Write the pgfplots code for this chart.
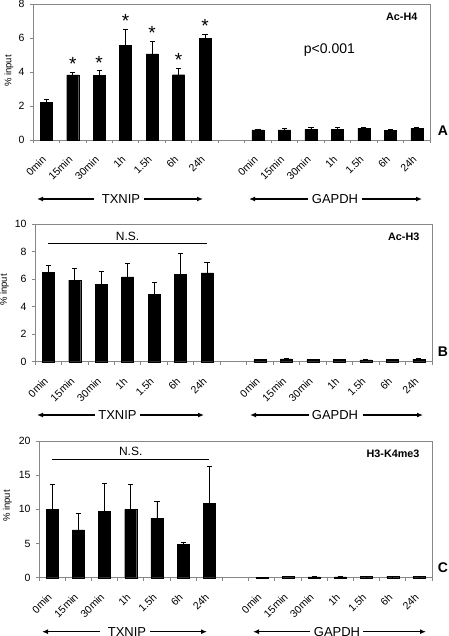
\documentclass[border=0pt]{standalone}
\usepackage{fontspec}
\setmainfont{Liberation Sans}
\usepackage{pgfplots}
\pgfplotsset{compat=1.18}
\usetikzlibrary{arrows.meta}
\definecolor{axgray}{RGB}{135,135,135}
\pgfplotsset{
  panel/.style={
    scale only axis, width=397pt, height=#1, anchor=south west,
    xmin=-0.5, xmax=14.5, ymin=0,
    axis line style={draw=axgray, line width=0.8pt},
    tick style={draw=axgray, line width=0.8pt},
    tick align=outside,
    major tick length=3pt, minor tick length=3pt,
    xtick pos=left, ytick pos=left,
    xtick={0,1,2,3,4,5,6,8,9,10,11,12,13,14},
    xticklabels={0min,15min,30min,1h,1.5h,6h,24h,0min,15min,30min,1h,1.5h,6h,24h},
    major x tick style={draw=none},
    minor xtick={-0.5,0.5,...,14.5},
    xticklabel style={xshift=-2pt, yshift=-14.5pt, rotate=45, anchor=east, inner sep=0pt, font=\fontsize{10.5}{12}\selectfont},
    yticklabel style={font=\fontsize{10.5}{12}\selectfont, xshift=-2pt},
    /pgf/number format/assume math mode=true,
    clip=false,
  },
  bars/.style={ybar, bar width=12pt, fill=black, draw=black,
    error bars/.cd, y dir=plus, y explicit,
    error bar style={black, line width=0.8pt},
    error mark options={rotate=90, mark size=2.6pt, black, line width=0.8pt}},
}
\begin{document}
\begin{tikzpicture}[x=1pt,y=1pt]
\path[use as bounding box] (0pt,0pt) rectangle (448pt,-636pt);

% ---------- Panel A ----------
\begin{axis}[panel=136pt, at={(33pt,-140pt)}, ymax=8, ytick={0,2,4,6,8}]
\addplot[bars] coordinates {
 (0,2.22) +- (0,0.19)
 (1,3.83) +- (0,0.16)
 (2,3.80) +- (0,0.28)
 (3,5.55) +- (0,0.96)
 (4,5.06) +- (0,0.76)
 (5,3.84) +- (0,0.38)
 (6,5.98) +- (0,0.24)
 (8,0.60) +- (0,0.04)
 (9,0.59) +- (0,0.12)
 (10,0.63) +- (0,0.11)
 (11,0.63) +- (0,0.09)
 (12,0.70) +- (0,0.03)
 (13,0.56) +- (0,0.05)
 (14,0.67) +- (0,0.10)
};
\addplot[draw=none, mark=none, nodes near coords={*},
  every node near coord/.append style={anchor=base, inner sep=0pt, yshift=1.5pt, font=\fontsize{19}{19}\selectfont}]
 coordinates {(1,3.99) (2,4.08) (3,6.51) (4,5.82) (5,4.22) (6,6.22)};
\node[anchor=east, font=\bfseries\fontsize{10.8}{12}\selectfont] at (rel axis cs:0.977,0.907) {Ac-H4};
\node[font=\fontsize{14}{16}\selectfont] at (axis cs:10.7,5.3) {p<0.001};
\end{axis}
\node[rotate=90, font=\fontsize{9.5}{11}\selectfont] at (9pt,-71pt) {\% input};
\node[font=\bfseries\fontsize{14}{16}\selectfont] at (443pt,-131pt) {A};
\begin{scope}[line width=1.2pt, font=\fontsize{13}{15}\selectfont]
\draw[-{Latex[length=6pt,width=5pt]}] (94pt,-199pt) -- (37pt,-199pt);
\node at (121pt,-199pt) {TXNIP};
\draw[-{Latex[length=6pt,width=5pt]}] (144pt,-199pt) -- (203pt,-199pt);
\draw[-{Latex[length=6pt,width=5pt]}] (308pt,-199pt) -- (249pt,-199pt);
\node at (335pt,-199pt) {GAPDH};
\draw[-{Latex[length=6pt,width=5pt]}] (362pt,-199pt) -- (422pt,-199pt);
\end{scope}

% ---------- Panel B ----------
\begin{axis}[panel=137.4pt, at={(35pt,-361.7pt)}, ymax=10, ytick={0,2,4,6,8,10}]
\addplot[bars] coordinates {
 (0,6.51) +- (0,0.51)
 (1,5.93) +- (0,0.85)
 (2,5.63) +- (0,0.96)
 (3,6.17) +- (0,0.95)
 (4,4.90) +- (0,0.90)
 (5,6.37) +- (0,1.53)
 (6,6.46) +- (0,0.78)
 (8,0.16) +- (0,0.03)
 (9,0.20) +- (0,0.03)
 (10,0.15) +- (0,0.03)
 (11,0.17) +- (0,0.02)
 (12,0.13) +- (0,0.02)
 (13,0.15) +- (0,0.02)
 (14,0.19) +- (0,0.03)
};
\addplot[black, line width=0.8pt, mark=none] coordinates {(0,8.6) (6,8.6)};
\node[font=\fontsize{12}{14}\selectfont] at (axis cs:3,9.15) {N.S.};
\node[anchor=east, font=\bfseries\fontsize{10.8}{12}\selectfont] at (rel axis cs:0.977,0.907) {Ac-H3};
\end{axis}
\node[rotate=90, font=\fontsize{9.5}{11}\selectfont] at (4.5pt,-290pt) {\% input};
\node[font=\bfseries\fontsize{14}{16}\selectfont] at (443pt,-351.7pt) {B};
\begin{scope}[line width=1.2pt, font=\fontsize{13}{15}\selectfont]
\draw[-{Latex[length=6pt,width=5pt]}] (95pt,-415pt) -- (37pt,-415pt);
\node at (117.5pt,-415pt) {TXNIP};
\draw[-{Latex[length=6pt,width=5pt]}] (140pt,-415pt) -- (204pt,-415pt);
\draw[-{Latex[length=6pt,width=5pt]}] (309pt,-415pt) -- (250pt,-415pt);
\node at (335pt,-415pt) {GAPDH};
\draw[-{Latex[length=6pt,width=5pt]}] (363pt,-415pt) -- (423pt,-415pt);
\end{scope}

% ---------- Panel C ----------
\begin{axis}[panel=136.7pt, at={(39pt,-577.7pt)}, width=393pt, ymax=20, ytick={0,5,10,15,20}]
\addplot[bars] coordinates {
 (0,10.0) +- (0,3.68)
 (1,7.0) +- (0,2.36)
 (2,9.7) +- (0,4.1)
 (3,10.0) +- (0,3.7)
 (4,8.68) +- (0,2.52)
 (5,4.85) +- (0,0.3)
 (6,10.93) +- (0,5.37)
 (8,0.05) +- (0,0.02)
 (9,0.15) +- (0,0.03)
 (10,0.12) +- (0,0.02)
 (11,0.12) +- (0,0.02)
 (12,0.15) +- (0,0.02)
 (13,0.15) +- (0,0.02)
 (14,0.15) +- (0,0.02)
};
\addplot[black, line width=0.8pt, mark=none] coordinates {(0,17.25) (6,17.25)};
\node[font=\fontsize{12}{14}\selectfont] at (axis cs:3,18.45) {N.S.};
\node[anchor=east, font=\bfseries\fontsize{10.8}{12}\selectfont] at (rel axis cs:0.977,0.907) {H3-K4me3};
\end{axis}
\node[rotate=90, font=\fontsize{9.5}{11}\selectfont] at (7.5pt,-506pt) {\% input};
\node[font=\bfseries\fontsize{14}{16}\selectfont] at (443pt,-568pt) {C};
\begin{scope}[line width=1.2pt, font=\fontsize{13}{15}\selectfont]
\draw[-{Latex[length=6pt,width=5pt]}] (100pt,-631.7pt) -- (42pt,-631.7pt);
\node at (127pt,-631.7pt) {TXNIP};
\draw[-{Latex[length=6pt,width=5pt]}] (150pt,-631.7pt) -- (207pt,-631.7pt);
\draw[-{Latex[length=6pt,width=5pt]}] (310pt,-631.7pt) -- (253pt,-631.7pt);
\node at (337pt,-631.7pt) {GAPDH};
\draw[-{Latex[length=6pt,width=5pt]}] (363pt,-631.7pt) -- (426pt,-631.7pt);
\end{scope}
\end{tikzpicture}
\end{document}
